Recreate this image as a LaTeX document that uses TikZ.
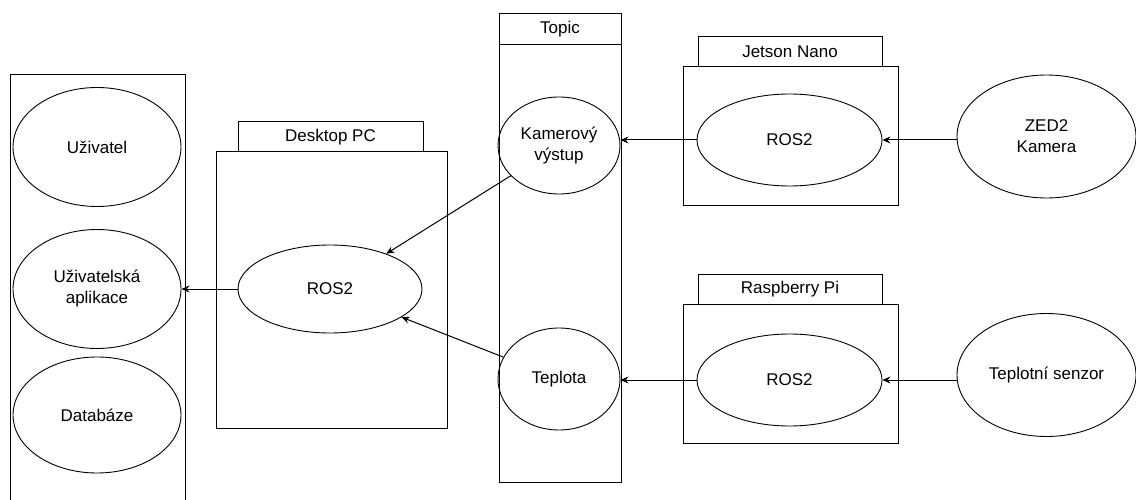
\documentclass[tikz,border=0pt]{standalone}
\usepackage{fontspec}
\setmainfont{Liberation Sans}
\usetikzlibrary{shapes.geometric,arrows.meta}
\begin{document}
\begin{tikzpicture}[x=1pt,y=-1pt,
  lbl/.style={font=\fontsize{17}{21}\selectfont},
  box/.style={draw, line width=1pt, rectangle, inner sep=0pt, lbl},
  oval/.style={draw, line width=0.9pt, ellipse, inner sep=0pt, align=center, lbl},
  arr/.style={-{Stealth[length=8pt,width=7pt]}, line width=1pt}]
\useasboundingbox (0,0) rectangle (1136,500);
% left column
\coordinate (lbl) at (10,500);
\coordinate (lbr) at (185,500);
\draw[line width=1pt] (lbl) -- (10,75) -- (185,75) -- (lbr);
\node[oval, minimum width=168, minimum height=119] (user) at (97,147) {Uživatel};
\node[oval, minimum width=168, minimum height=119] (app) at (97,289) {Uživatelská\\aplikace};
\node[oval, minimum width=168, minimum height=116] (db) at (97,415) {Databáze};
% Desktop PC
\node[box, minimum width=185, minimum height=30] (desktab) at (330.5,137) {Desktop PC};
\node[box, minimum width=231, minimum height=276] (desk) at (331.5,290) {};
\node[oval, minimum width=184, minimum height=88] (dros) at (330,289) {ROS2};
% Topic
\node[box, minimum width=122, minimum height=31] (topictab) at (560,29.5) {Topic};
\node[box, minimum width=122, minimum height=437] (topic) at (560,263.5) {};
\node[oval, minimum width=122, minimum height=97] (kam) at (559,145.5) {Kamerový\\výstup};
\node[oval, minimum width=122, minimum height=102] (tep) at (559,379) {Teplota};
% Jetson Nano
\node[box, minimum width=184, minimum height=30] (jettab) at (790,52) {Jetson Nano};
\node[box, minimum width=215, minimum height=139] (jet) at (790.5,136.5) {};
\node[oval, minimum width=185, minimum height=92] (jros) at (789.5,140) {ROS2};
\node[oval, minimum width=179, minimum height=123] (zed) at (1046.5,136.5) {ZED2\\Kamera};
% Raspberry Pi
\node[box, minimum width=184, minimum height=30] (rpitab) at (790,289) {Raspberry Pi};
\node[box, minimum width=215, minimum height=139] (rpi) at (790.5,373.5) {};
\node[oval, minimum width=185, minimum height=92] (rros) at (789.5,380) {ROS2};
\node[oval, minimum width=179, minimum height=123] (sen) at (1046.5,375) {Teplotní senzor};
% connectors
\draw[arr] (zed.west |- jros.east) -- (jros.east);
\draw[arr] (jros.west) -- (jros.west -| kam.east);
\draw[arr] (sen.west |- rros.east) -- (rros.east);
\draw[arr] (rros.west) -- (rros.west -| tep.east);
\draw[arr] (kam) -- (dros);
\draw[arr] (tep) -- (dros);
\draw[arr] (dros.west) -- (dros.west -| app.east);
\end{tikzpicture}
\end{document}
